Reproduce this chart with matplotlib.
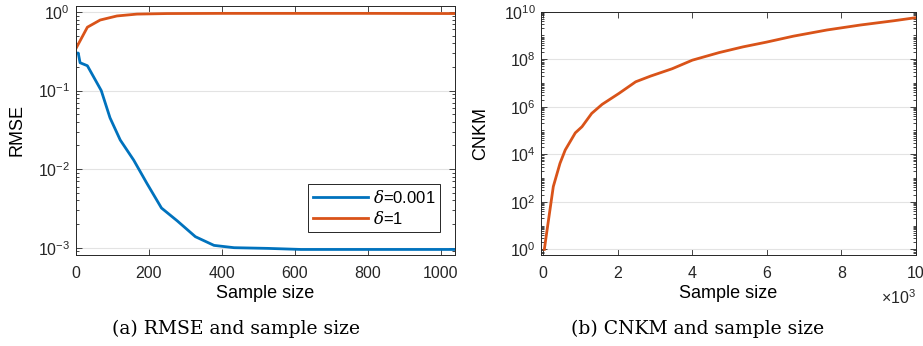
import numpy as np
import matplotlib
matplotlib.use("Agg")
import matplotlib.pyplot as plt
from matplotlib.ticker import LogLocator, NullFormatter

# RMSE vs sample size (left panel)
rmse_x = [1, 7, 12, 32, 70, 94, 122, 159, 195, 235, 278, 328, 379, 434, 526, 617, 800, 1040]
rmse_small = [0.30, 0.30, 0.226, 0.207, 0.100, 0.045, 0.0235, 0.0130, 0.0066, 0.0032,
              0.0022, 0.00138, 0.00107, 0.00100, 0.00098, 0.00095, 0.00095, 0.00095]
rmse_one_x = [1, 32, 67, 113, 168, 250, 400, 600, 800, 1040]
rmse_one = [0.345, 0.64, 0.79, 0.89, 0.94, 0.955, 0.96, 0.96, 0.96, 0.955]

# CNKM vs sample size (right panel), x in thousands, y as log10
cnkm_x = [0.03, 0.09, 0.27, 0.45, 0.59, 0.86, 1.04, 1.3, 1.58, 2.03, 2.48, 2.88, 3.46,
          4.0, 4.72, 5.36, 5.99, 6.71, 7.61, 8.51, 9.41, 10.0]
cnkm_log = [0.0, 0.67, 2.64, 3.62, 4.18, 4.9, 5.16, 5.72, 6.1, 6.56, 7.05, 7.29, 7.6,
            7.96, 8.28, 8.52, 8.72, 8.97, 9.23, 9.44, 9.62, 9.75]

blue = "#0072BD"
orange = "#D95319"

plt.rcParams["font.family"] = ["Liberation Sans", "DejaVu Sans"]
plt.rcParams["mathtext.fontset"] = "custom"
plt.rcParams["mathtext.rm"] = "Liberation Sans"
plt.rcParams["mathtext.it"] = "DejaVu Serif:italic"
plt.rcParams["mathtext.default"] = "regular"

fig = plt.figure(figsize=(9.23, 3.46), dpi=100)
W, H = 923, 346
ax1 = fig.add_axes([75.7 / W, 1 - 255 / H, (454.5 - 75.7) / W, (255 - 5.7) / H])
ax2 = fig.add_axes([541 / W, 1 - 255 / H, (916 - 541) / W, (255 - 11.7) / H])


def style(ax):
    ax.set_yscale("log")
    ax.tick_params(which="both", direction="in", top=True, right=True, labelsize=11.5,
                   colors="#262626", width=0.6)
    ax.tick_params(which="major", length=4)
    ax.tick_params(which="minor", length=2)
    ax.tick_params(axis="x", pad=8)
    ax.tick_params(axis="y", pad=4)
    for s in ax.spines.values():
        s.set_color("#262626")
        s.set_linewidth(0.7)
    ax.grid(True, which="major", axis="y", color="#e3e3e3", linewidth=0.8)
    ax.set_axisbelow(True)


style(ax1)
ax1.plot(rmse_x, rmse_small, color=blue, lw=2.0, label=r"$\mathit{\delta}$=0.001")
ax1.plot(rmse_one_x, rmse_one, color=orange, lw=2.0, label=r"$\mathit{\delta}$=1")
ax1.set_xlim(0, 1038)
ax1.set_ylim(10 ** -3.093, 10 ** 0.08)
ax1.set_xticks([0, 200, 400, 600, 800, 1000])
ax1.yaxis.set_major_locator(LogLocator(base=10, numticks=10))
ax1.yaxis.set_minor_locator(LogLocator(base=10, subs=np.arange(2, 10), numticks=10))
ax1.yaxis.set_minor_formatter(NullFormatter())
ax1.set_xlabel("Sample size", fontsize=13, labelpad=3)
ax1.set_ylabel("RMSE", fontsize=13, labelpad=9)
leg = ax1.legend(loc="lower right", bbox_to_anchor=(0.985, 0.06), fontsize=12,
                 fancybox=False, framealpha=1, edgecolor="#262626",
                 handlelength=3.3, handletextpad=0.3, borderpad=0.3, labelspacing=0.25)
leg.get_frame().set_linewidth(0.7)

style(ax2)
ax2.plot(cnkm_x, 10 ** np.array(cnkm_log), color=orange, lw=2.0)
ax2.set_xlim(-0.06, 10)
ax2.set_ylim(10 ** -0.24, 1e10)
ax2.set_xticks([0, 2, 4, 6, 8, 10])
ax2.yaxis.set_major_locator(LogLocator(base=100, numticks=10))
ax2.yaxis.set_minor_locator(LogLocator(base=10, subs=np.arange(1, 10), numticks=20))
ax2.yaxis.set_minor_formatter(NullFormatter())
ax2.set_xlabel("Sample size", fontsize=13, labelpad=3)
ax2.set_ylabel("CNKM", fontsize=13, labelpad=10)
ax2.text(1.0, -0.135, r"$\times$10$^3$", transform=ax2.transAxes, ha="right", va="top",
         fontsize=11.5, color="#262626")

cap = dict(fontsize=13.5, family=["DejaVu Serif"], ha="center", va="center")
fig.text(236 / W, 1 - 329 / H, "(a) RMSE and sample size", **cap)
fig.text(698 / W, 1 - 329 / H, "(b) CNKM and sample size", **cap)

fig.savefig("out.png", dpi=100)
